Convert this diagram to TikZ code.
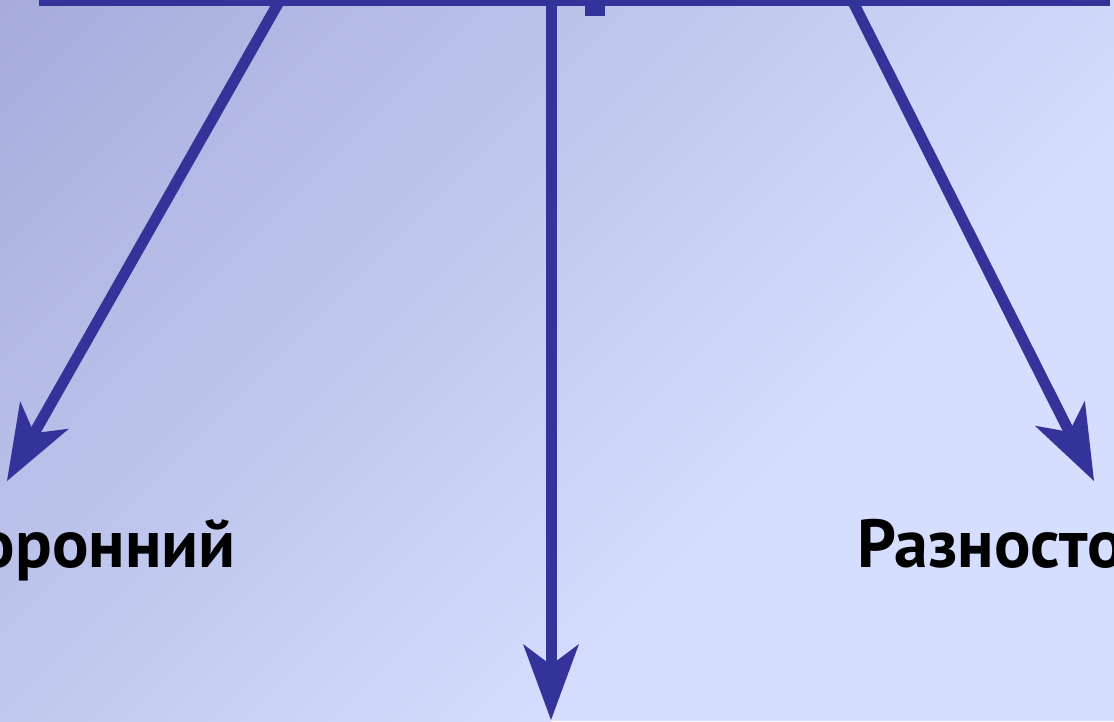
\documentclass[tikz,border=0pt]{standalone}
\usepackage{fontspec}
\setmainfont{PT Sans}
\usepackage{xcolor}
\usepackage{tikz}
\usetikzlibrary{arrows.meta}
\definecolor{bgdark}{HTML}{A6ABDA}
\definecolor{bglight}{HTML}{D5DEFE}
\definecolor{ink}{HTML}{333399}
\tikzset{
  bar/.style={draw=ink, line width=12pt},
  arr/.style={draw=ink, line width=11pt, -{Stealth[length=76pt, width=56pt, inset=21pt, line width=0pt]}},
  lab/.style={inner sep=0pt, text=black, font=\fontsize{68}{76}\selectfont\bfseries},
}
\begin{document}
\begin{tikzpicture}[x=1pt,y=1pt]
  \useasboundingbox (0,-721) rectangle (1114,0);
  \fill[bglight] (0,-721) rectangle (1114,0);
  \begin{scope}
    \clip (0,-721) rectangle (1114,0);
    \begin{scope}[transform canvas={rotate=-45}]
      \shade[left color=bgdark, right color=bglight] (0,-900) rectangle (900,900);
    \end{scope}
  \end{scope}
  \coordinate (l0) at (280,0);  \coordinate (l1) at (7,-481);
  \coordinate (m0) at (551,0);  \coordinate (m1) at (551,-720);
  \coordinate (r0) at (852,0);  \coordinate (r1) at (1094,-481);
  \draw[bar] (39,0) -- (1110,0);
  \fill[ink] (585,0) rectangle (605,-16);
  \draw[arr] (l0) -- (l1);
  \draw[arr] (m0) -- (m1);
  \draw[arr] (r0) -- (r1);
  \node[lab, anchor=base east] (equi) at (236,-567) {Равносторонний};
  \node[lab, anchor=base west] (scal) at (857,-567) {Разносторонний};
\end{tikzpicture}
\end{document}
